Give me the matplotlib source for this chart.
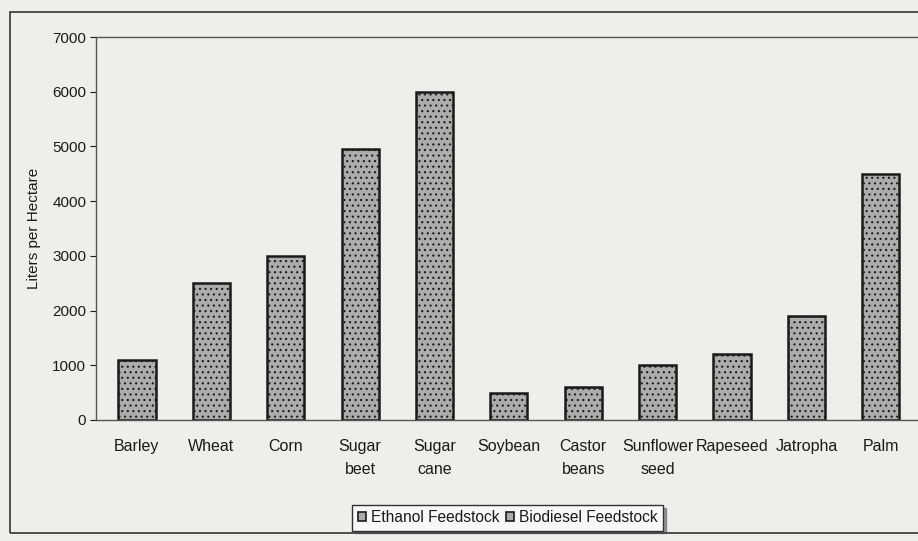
import matplotlib
matplotlib.use('Agg')
import matplotlib.pyplot as plt
from matplotlib.patches import Rectangle, Patch
import numpy as np

plt.rcParams['font.family'] = ['Liberation Sans', 'DejaVu Sans']
plt.rcParams['hatch.color'] = '#8e8e8a'
plt.rcParams['hatch.linewidth'] = 0.8

# values (liters per hectare)
ethanol_crops = ['Barley', 'Wheat', 'Corn', 'Sugar\nbeet', 'Sugar\ncane']
ethanol_vals = [1100, 2500, 3000, 4950, 6000]
biodiesel_crops = ['Soybean', 'Castor\nbeans', 'Sunflower\nseed', 'Rapeseed', 'Jatropha', 'Palm']
biodiesel_vals = [500, 600, 1000, 1200, 1900, 4500]
yticks = [0, 1000, 2000, 3000, 4000, 5000, 6000, 7000]

paper = '#efeeea'
bar_grey = '#acacaa'
ink = '#1a1a1a'

fig = plt.figure(figsize=(9.18, 5.41), dpi=100, facecolor=paper)
ax = fig.add_axes([0.1046, 0.2237, 0.8954, 0.7079])
ax.set_facecolor(paper)

labels = ethanol_crops + biodiesel_crops
x_eth = np.arange(len(ethanol_crops))
x_bio = np.arange(len(ethanol_crops), len(labels))

ax.bar(x_eth, ethanol_vals, width=0.5, color=bar_grey, edgecolor=ink, linewidth=1.8,
       hatch='...', label='Ethanol Feedstock')
ax.bar(x_bio, biodiesel_vals, width=0.5, color=bar_grey, edgecolor=ink, linewidth=1.8,
       hatch='...', label='Biodiesel Feedstock')

ax.set_xlim(-0.55, 10.5)
ax.set_ylim(0, 7000)
ax.set_yticks(yticks)
ax.set_yticklabels([str(v) for v in yticks], fontsize=11, color=ink)
ax.set_xticks(np.arange(len(labels)))
ax.set_xticklabels(labels, fontsize=11.5, color=ink, linespacing=1.65, va='top')
ax.tick_params(axis='x', length=0, pad=14)
ax.tick_params(axis='y', length=4, width=0.8, color=ink, pad=3, direction='out')

for s in ['left', 'top', 'bottom']:
    ax.spines[s].set_color('#555555')
    ax.spines[s].set_linewidth(1.0)
ax.spines['right'].set_visible(False)

ax.set_ylabel('Liters per Hectare', fontsize=11, color=ink, labelpad=8)

# outer chart frame
fig.patches.append(Rectangle((0.011, 0.015), 1.2, 0.963, transform=fig.transFigure,
                             fill=False, edgecolor='#333333', linewidth=1.2))

handles = [Patch(facecolor=bar_grey, edgecolor=ink, linewidth=1.2, label='Ethanol Feedstock'),
           Patch(facecolor=bar_grey, edgecolor=ink, linewidth=1.2, label='Biodiesel Feedstock')]
leg = fig.legend(handles=handles, loc='center', bbox_to_anchor=(0.553, 0.043), ncol=2,
                 fontsize=11.2, frameon=True, fancybox=False, shadow=True,
                 handlelength=0.55, handleheight=0.55, handletextpad=0.3, columnspacing=0.4,
                 borderpad=0.35)
leg.get_frame().set_edgecolor('#333333')
leg.get_frame().set_facecolor('#f8f8f6')
for t in leg.get_texts():
    t.set_color(ink)

fig.savefig('out.png', dpi=100, facecolor=paper)
